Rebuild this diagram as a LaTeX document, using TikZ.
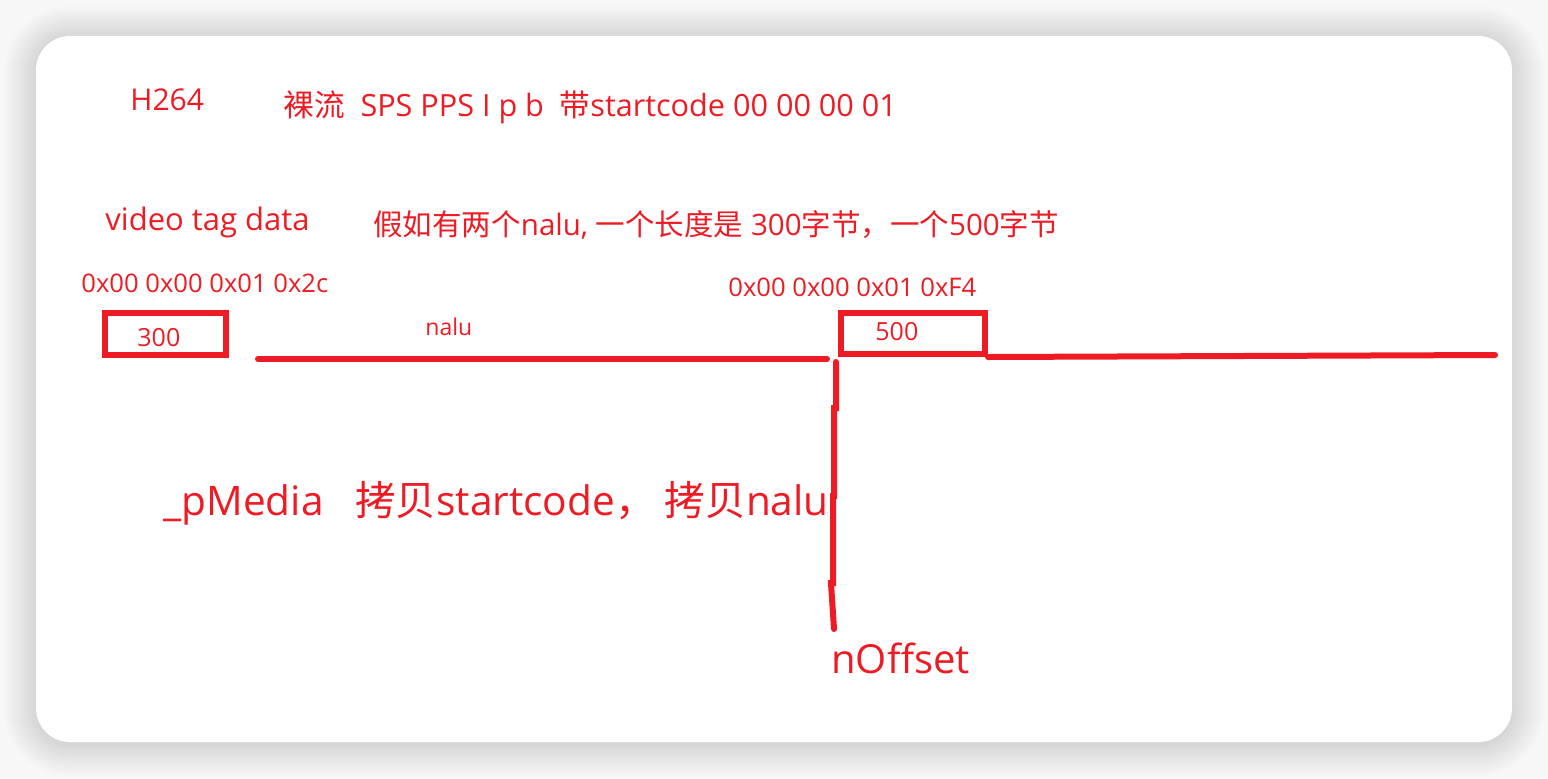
\documentclass[tikz,border=0pt]{standalone}
\usepackage{fontspec}
\setmainfont{Open Sans}
\newfontfamily\hanzi{Noto Sans CJK SC}
\usepackage{tikz}
\usetikzlibrary{positioning}
\definecolor{inkred}{HTML}{ED1C24}

\begin{document}
\begin{tikzpicture}[x=0.5pt,y=-0.5pt,
    note/.style={text=inkred,inner sep=0pt,anchor=base west,font=\fontsize{15pt}{17pt}\selectfont},
    small/.style={note,font=\fontsize{12.8pt}{14pt}\selectfont},
    big/.style={note,font=\fontsize{20.3pt}{23pt}\selectfont},
    pen/.style={draw=inkred,line width=3pt,line cap=round},
    lenbox/.style={draw=inkred,line width=3pt,inner sep=0pt}]
        % the page and the card with its shadow
        \useasboundingbox (0,0) rectangle (1548,778);
        \fill[black!3] (0,0) rectangle (1548,778);
        \foreach \s in {1,...,16}
          \fill[black,opacity=0.009,rounded corners=17pt+\s*1pt] (36-2*\s,36-2*\s+2) rectangle (1512+2*\s,742+2*\s+2);
        \fill[white,rounded corners=17pt] (36,36) rectangle (1512,742);

        %% the texts
        \node[note] (h264) at (130,110) {H264};
        \node[note,font=\fontsize{15.3pt}{17pt}\selectfont] (rawline) at (283,116) {{\hanzi 裸流}~~SPS PPS I p b~~{\hanzi 带}startcode 00 00 00 01};
        \node[note,font=\fontsize{15.5pt}{17pt}\selectfont] (tagdata) at (105,230) {video tag data};
        \node[note,font=\fontsize{14.75pt}{17pt}\selectfont] (suppose) at (373,235) {{\hanzi 假如有两个}nalu, {\hanzi 一个长度是} 300{\hanzi 字节，一个}500{\hanzi 字节}};
        \node[small] (code300) at (81,292) {0x00 0x00 0x01 0x2c};
        \node[small] (code500) at (728,296) {0x00 0x00 0x01 0xF4};

        %% the two length boxes
        \node[lenbox,minimum width=60.5pt,minimum height=21pt] (box300) at (165.5,334) {};
        \node[small,font=\fontsize{12.5pt}{14pt}\selectfont] at (137,346) {300};
        \node[lenbox,minimum width=72pt,minimum height=20.5pt] (box500) at (913,333.5) {};
        \node[small,font=\fontsize{12.5pt}{14pt}\selectfont] at (875,340) {500};
        \node[small,font=\fontsize{11.5pt}{13pt}\selectfont] (nalu) at (425,335) {nalu};

        %% the stream lines
        \coordinate (tailend) at (1495,355);
        \draw[pen] ([xshift=14.5pt,yshift=-0.5pt]box300.south east) -- ([xshift=-5.5pt,yshift=-1pt]box500.south west);
        \draw[pen] (box500.south east) -- (tailend);

        %% the offset pointer
        \node[big] (pmedia) at (163,515) {\_pMedia~~~{\hanzi 拷贝}startcode{\hanzi ，~拷贝}nalu};
        \node[big,font=\fontsize{20pt}{23pt}\selectfont] (nOffset) at (831,673) {nOffset};
        \coordinate (ptrend) at (834,629);
        \draw[pen] ([xshift=-1pt,yshift=-2.5pt]box500.south west) -- ++(0,46) -- ++(-2,0) -- ++(0,88) -- ++(-1,0) -- ++(0,87) -- ++(-2,0) -- (ptrend);
\end{tikzpicture}
\end{document}
